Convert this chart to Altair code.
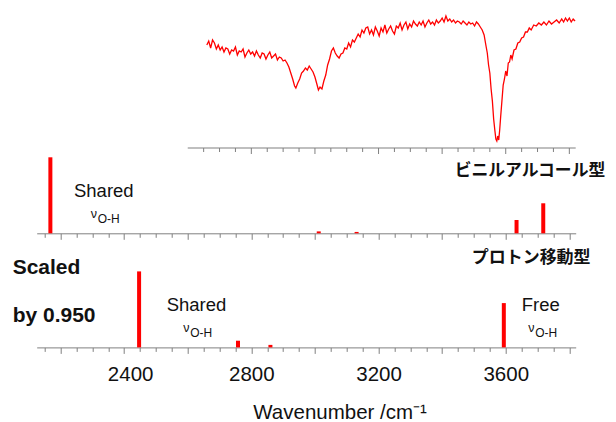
import altair as alt
import pandas as pd

LATIN = "Liberation Sans"
CJK = "Noto Sans CJK JP"
RED = "#ff0000"
GREY = "#808080"

# ---------------- data ----------------
# observed IR spectrum (wavenumber / cm-1, transmittance in arbitrary units)
spec_wn = [2660, 2666, 2672, 2678, 2684, 2690, 2696, 2702, 2708, 2714, 2720, 2726, 2732, 2738,
           2744, 2750, 2756, 2762, 2768, 2774, 2780, 2786, 2792, 2798, 2804, 2810, 2816, 2822,
           2828, 2834, 2840, 2846, 2852, 2858, 2864, 2870, 2876, 2882, 2888, 2894, 2900, 2906,
           2912, 2918, 2924, 2930, 2936, 2940, 2946, 2952, 2958, 2964, 2970, 2976, 2982, 2988,
           2994, 3000, 3006, 3011, 3016, 3022, 3028, 3034, 3040, 3046, 3052, 3058, 3064, 3070,
           3076, 3082, 3088, 3094, 3100, 3106, 3112, 3118, 3124, 3130, 3136, 3142, 3148, 3154,
           3160, 3166, 3172, 3178, 3184, 3190, 3196, 3202, 3208, 3214, 3220, 3226, 3232, 3238,
           3244, 3250, 3256, 3262, 3268, 3274, 3280, 3286, 3292, 3298, 3304, 3310, 3316, 3322,
           3328, 3334, 3340, 3346, 3352, 3358, 3364, 3370, 3376, 3382, 3388, 3394, 3400, 3406,
           3412, 3418, 3424, 3430, 3436, 3442, 3448, 3454, 3460, 3466, 3472, 3478, 3484, 3490,
           3496, 3502, 3508, 3514, 3520, 3526, 3532, 3538, 3542, 3546, 3550, 3554, 3558, 3562,
           3566, 3569, 3572, 3575, 3578, 3581, 3584, 3588, 3592, 3596, 3600, 3604, 3608, 3612,
           3616, 3620, 3626, 3632, 3638, 3644, 3650, 3656, 3662, 3668, 3674, 3680, 3688, 3696,
           3704, 3712, 3720, 3728, 3736, 3744, 3752, 3760, 3768, 3776, 3782, 3788, 3794, 3800,
           3806, 3812, 3818]
spec_t = [103, 107, 100, 108, 105, 99, 103, 98, 101, 96, 100, 99, 94, 98,
          97, 101, 93, 97, 96, 99, 91, 95, 98, 94, 96, 92, 97, 93,
          90, 95, 94, 89, 93, 96, 90, 92, 94, 88, 91, 90, 87, 88,
          85, 81, 75, 69, 62, 60, 65, 69, 75, 77, 80, 78, 82, 79,
          76, 71, 64, 58, 61, 59, 67, 73, 83, 89, 97, 100, 95, 92,
          90, 94, 95, 100, 99, 105, 101, 108, 106, 110, 114, 111, 118, 115,
          120, 121, 114, 118, 113, 121, 117, 112, 120, 116, 123, 115, 119, 122,
          117, 114, 122, 120, 125, 118, 123, 126, 119, 124, 121, 127, 124, 122,
          126, 123, 127, 121, 125, 128, 124, 126, 123, 128, 125, 127, 130, 126,
          132, 127, 129, 126, 128, 125, 127, 126, 124, 127, 125, 123, 126, 124,
          125, 122, 126, 124, 121, 118, 113, 102, 95, 83, 75, 59, 47, 29,
          17, 9, 7, 12, 8, 18, 31, 47, 63, 69, 77, 72, 85, 86,
          93, 89, 98, 99, 105, 106, 110, 111, 116, 116, 120, 118, 123, 122,
          125, 123, 126, 123, 127, 124, 126, 128, 125, 129, 126, 130, 127, 130,
          126, 129, 127]

# calculated sticks: vinyl-alcohol form (relative intensity)
va_wn = [2168, 3012, 3131, 3634, 3718]
va_int = [1.0, 0.025, 0.018, 0.175, 0.395]

# calculated sticks: proton-transfer form (scaled by 0.950)
pt_wn = [2447, 2758, 2860, 3594]
pt_int = [1.0, 0.088, 0.033, 0.583]

# axis ticks
axis_ticks = list(range(2150, 3801, 50))
top_axis_extent = [2600, 3820]
top_minor = [v for v in range(2650, 3801, 50) if v % 200 != 0]
top_major = [v for v in range(2650, 3801, 50) if v % 200 == 0]

X_DOMAIN = [2125, 3820]
W = 539
H_TOP, H_MID, H_BOT = 135, 85.3, 113.4

spec_df = pd.DataFrame({"wn": spec_wn, "t": spec_t})
va_df = pd.DataFrame({"wn": va_wn, "I": va_int})
pt_df = pd.DataFrame({"wn": pt_wn, "I": pt_int})


def xscale():
    return alt.Scale(domain=X_DOMAIN, nice=False, zero=False)


def label(text, px, py, size, weight="normal", font=LATIN, color="#111111"):
    return alt.Chart(pd.DataFrame({"t": [text]})).mark_text(
        align="left", baseline="alphabetic", fontSize=size, fontWeight=weight,
        font=font, color=color
    ).encode(x=alt.value(px), y=alt.value(py), text="t:N")


def nu_label(px, py):
    return [label("\u03bd", px, py, 12.5), label("O-H", px + 7, py + 5, 12)]


# ---------------- top panel: observed spectrum ----------------
spec_line = alt.Chart(spec_df).mark_line(color=RED, strokeWidth=1.3).encode(
    x=alt.X("wn:Q", scale=xscale(), axis=None),
    y=alt.Y("t:Q", scale=alt.Scale(domain=[0, H_TOP]), axis=None),
)
top_domain = alt.Chart(pd.DataFrame({"a": [top_axis_extent[0]], "b": [top_axis_extent[1]]})).mark_rule(
    color=GREY, strokeWidth=1
).encode(x=alt.X("a:Q", scale=xscale()), x2="b:Q", y=alt.value(H_TOP))
top_minor_ticks = alt.Chart(pd.DataFrame({"wn": top_minor})).mark_rule(color=GREY, strokeWidth=1).encode(
    x=alt.X("wn:Q", scale=xscale()), y=alt.value(H_TOP), y2=alt.value(H_TOP + 4)
)
top_major_ticks = alt.Chart(pd.DataFrame({"wn": top_major})).mark_rule(color=GREY, strokeWidth=1).encode(
    x=alt.X("wn:Q", scale=xscale()), y=alt.value(H_TOP), y2=alt.value(H_TOP + 6)
)
top = alt.layer(spec_line, top_domain, top_minor_ticks, top_major_ticks).properties(width=W, height=H_TOP)

# ---------------- shared axis style ----------------
tick_size = {"condition": {"test": "datum.value % 200 == 0", "value": 6}, "value": 4}
label_offset = {"condition": {"test": "datum.value == 2400", "value": 6}, "value": 0}


def stick_axis(with_labels):
    kw = dict(values=axis_ticks, tickSize=tick_size, tickColor=GREY, domainColor=GREY,
              domainWidth=1, tickWidth=1, grid=False, title=None)
    if with_labels:
        kw.update(labelExpr="datum.value % 400 == 0 ? format(datum.value, 'd') : ''",
                  labelFontSize=20.5, labelFont=LATIN, labelColor="#111111",
                  labelPadding=11, labelOverlap=False, labelFlush=False,
                  labelOffset=label_offset)
    else:
        kw.update(labels=False)
    return alt.Axis(**kw)


# ---------------- middle panel: vinyl alcohol form ----------------
va_bars = alt.Chart(va_df).mark_rule(color=RED, strokeWidth=4).encode(
    x=alt.X("wn:Q", scale=xscale(), axis=stick_axis(False)),
    y=alt.Y("I:Q", scale=alt.Scale(domain=[0, H_MID / 76]), axis=None),
    y2=alt.datum(0),
)
mid = alt.layer(
    va_bars,
    label("Shared", 37.3, 49.3, 18.5),
    *nu_label(54, 70),
    label("ビニルアルコール型", 418, 28, 16.8, weight="bold", font=CJK),
).properties(width=W, height=H_MID)

# ---------------- bottom panel: proton transfer form ----------------
pt_bars = alt.Chart(pt_df).mark_rule(color=RED, strokeWidth=4).encode(
    x=alt.X("wn:Q", scale=xscale(), axis=stick_axis(True)),
    y=alt.Y("I:Q", scale=alt.Scale(domain=[0, H_BOT / 76]), axis=None),
    y2=alt.datum(0),
)
bot = alt.layer(
    pt_bars,
    label("Shared", 130, 76.7, 18.5),
    *nu_label(146.5, 98),
    label("Free", 485, 76.7, 18.5),
    *nu_label(491.5, 98),
    label("プロトン移動型", 435, 28.8, 17, weight="bold", font=CJK),
    label("Scaled", -24, 39.7, 21, weight="bold"),
    label("by 0.950", -24, 87.7, 21, weight="bold"),
    label("Wavenumber /cm\u207b\u00b9", 216.6, 185, 20.5),
).properties(width=W, height=H_BOT)

chart = alt.vconcat(top, mid, bot, spacing=0, bounds="flush").properties(
    padding={"left": 4.7, "top": 5, "right": 0, "bottom": 0}
).configure_view(strokeWidth=0)

chart.save("out.html", embed_options={"renderer": "svg", "actions": False})
